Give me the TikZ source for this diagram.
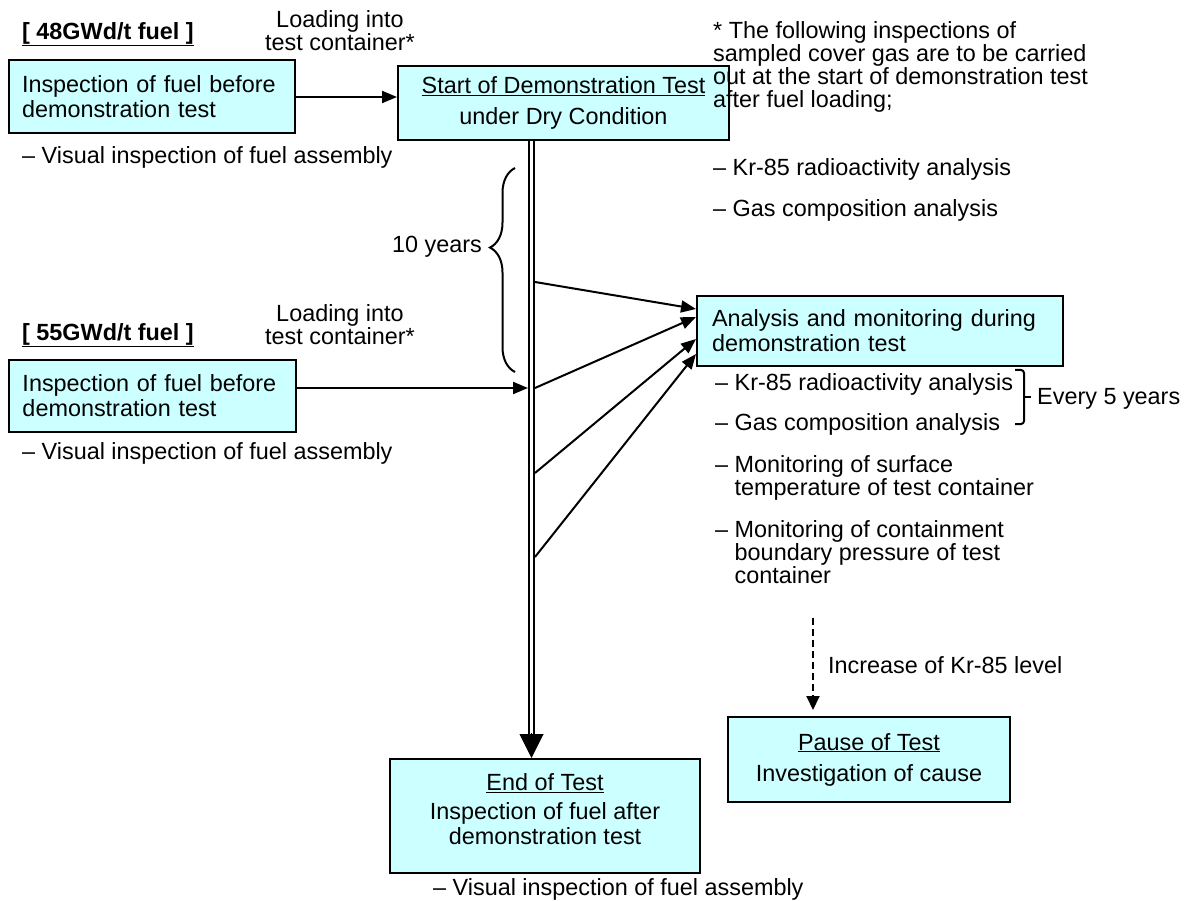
\documentclass[tikz,border=0pt]{standalone}
\usepackage{fontspec}
\setmainfont{Liberation Sans}
\usetikzlibrary{arrows.meta,decorations.pathreplacing,calc}
\definecolor{boxfill}{HTML}{CCFFFF}
\newcommand\fsz{\fontsize{23.4pt}{23pt}\selectfont}
\newcommand\fszb{\fontsize{23.4pt}{25pt}\selectfont}
\begin{document}
\begin{tikzpicture}[x=1pt,y=-1pt,
  font=\fsz,
  box/.style={draw=black, line width=2pt, fill=boxfill, inner sep=0pt, font=\fszb},
  lbl/.style={inner sep=0pt, anchor=north west, align=left},
  arr/.style={line width=2pt, -{Triangle[length=15pt,width=12pt]}},
  dbl/.style={line width=2pt, double=white, double distance=3pt},
]
\useasboundingbox[fill=white] (0,0) rectangle (1192,901);

% boxes
\node[box, minimum width=286pt, minimum height=73pt, text width=260pt, align=left] (A) at (152,97) {Inspection of fuel before\\demonstration test};
\node[box, minimum width=331pt, minimum height=74pt, align=center] (S) at (563.5,103) {\underline{Start of Demonstration Test}\\[6pt]under Dry Condition};
\node[box, minimum width=287pt, minimum height=72pt, text width=260pt, align=left] (B) at (152.5,396) {Inspection of fuel before\\demonstration test};
\node[box, minimum width=366pt, minimum height=70pt, text width=336pt, align=left] (An) at (880,331) {Analysis and monitoring during\\demonstration test};
\node[box, minimum width=310pt, minimum height=114pt, align=center] (E) at (545,816) {\underline{End of Test}\\[4pt]Inspection of fuel after\\demonstration test\rule[-14pt]{0pt}{14pt}};
\node[box, minimum width=282pt, minimum height=85pt, align=center] (P) at (869,759.5) {\underline{Pause of Test}\\[6pt]Investigation of cause};

% free text
\node[lbl] (h48) at (22,22) {\bfseries\underline{[ 48GWd/t fuel ]}};
\node[lbl] (h55) at (22,323) {\bfseries\underline{[ 55GWd/t fuel ]}};
\node[inner sep=0pt, anchor=north, align=center] (ld1) at (340,10) {Loading into\\test container*};
\node[inner sep=0pt, anchor=north, align=center] (ld2) at (340,304) {Loading into\\test container*};
\node[lbl] (va) at (22,146) {– Visual inspection of fuel assembly};
\node[lbl] (vb) at (22,442) {– Visual inspection of fuel assembly};
\node[lbl] (ve) at (433,878) {– Visual inspection of fuel assembly};
\node[lbl] (note) at (713,21) {* The following inspections of\\sampled cover gas are to be carried\\out at the start of demonstration test\\after fuel loading;};
\node[lbl] (n1) at (713,158) {– Kr-85 radioactivity analysis};
\node[lbl] (n2) at (713,199) {– Gas composition analysis};
\node[lbl] (m1) at (715,373) {– Kr-85 radioactivity analysis};
\node[lbl] (m2) at (715,413) {– Gas composition analysis};
\node[lbl] (m3) at (715,455) {– Monitoring of surface\\\hphantom{– }temperature of test container};
\node[lbl] (m4) at (715,520) {– Monitoring of containment\\\hphantom{– }boundary pressure of test\\\hphantom{– }container};
\node[inner sep=0pt, anchor=base west] (e5) at (1037,404) {Every 5 years};
\node[inner sep=0pt, anchor=base east] (ty) at (482,253) {10 years};
\node[inner sep=0pt, anchor=base west] (inc) at (828,673) {Increase of Kr-85 level};

% main time line
\coordinate (mend) at (531.5,737);
\coordinate (p1) at (535,282);
\coordinate (p2) at (528,388);
\coordinate (p2r) at (535,388);
\coordinate (p3) at (535,473);
\coordinate (p4) at (535,557);

\draw[arr] (A.east) -- (A.east -| S.west);
\draw[arr] ([yshift=8pt]B.east) -- (p2);
\draw[arr] (p1) -- ($(An.north west)+(0,14)$);
\draw[arr] (p2r) -- ($(An.north west)+(0,22)$);
\draw[arr] (p3) -- ($(An.north west)+(0,44)$);
\draw[arr] (p4) -- ($(An.north west)+(0,59)$);

\draw[dbl] (S.south -| mend) -- (mend);
\draw[line width=1pt, -{Triangle[length=24pt,width=24pt]}] ($(mend)+(0,-4)$) -- (E.north -| mend);

% braces
\draw[line width=2pt, decorate, decoration={brace, amplitude=25pt, aspect=0.61}] (515,372) -- (515,168);
\draw[line width=2pt, rounded corners=3pt] (1015,370) -- (1024,370) -- (1024,424) -- (1015,424);
\draw[line width=2pt] (1024,397) -- (1031,397);

% dashed arrow
\coordinate (dtop) at (813,618);
\draw[line width=2pt, dash pattern=on 7pt off 4pt, -{Triangle[length=14pt,width=13pt]}, shorten >=6pt] (dtop) -- (P.north -| dtop);
\end{tikzpicture}
\end{document}
